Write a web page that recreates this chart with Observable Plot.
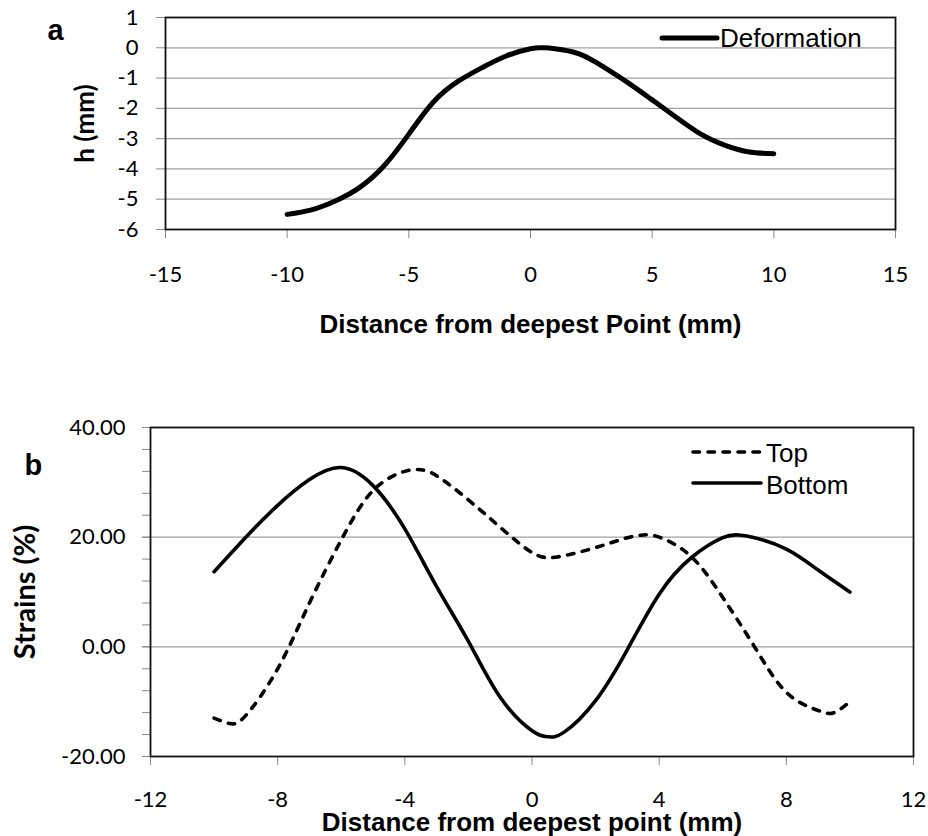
<!DOCTYPE html>
<html>
<head>
<meta charset="utf-8">
<script src="https://cdn.jsdelivr.net/npm/d3@7"></script>
<script src="https://cdn.jsdelivr.net/npm/@observablehq/plot@0.6"></script>
<style>
  body { margin: 0; background: #fff; }
  #wrap { position: relative; width: 928px; height: 836px; background: #fff; }
  .panel { position: absolute; left: 0; }
  .leg { position: absolute; font-family: "Liberation Sans", Arial, sans-serif; font-size: 26px; line-height: 30px; color: #000; white-space: nowrap; }
  .sw { position: absolute; overflow: visible; }
</style>
</head>
<body>
<div id="wrap">
  <div id="pa" class="panel" style="top:0"></div>
  <div id="pb" class="panel" style="top:400px"></div>
</div>
<script>
// ---------- Panel a: deformation ----------
const defX = [-10, -9, -8, -7, -6, -5, -4, -3, -2, -1, 0, 0.5, 1, 2, 3, 4, 5, 6, 7, 8, 9, 10];
const defH = [-5.5, -5.35, -5.05, -4.6, -3.88, -2.85, -1.8, -1.12, -0.66, -0.27, -0.03, 0, -0.03, -0.2, -0.63, -1.15, -1.72, -2.3, -2.85, -3.22, -3.44, -3.5];
const xTicksA = [-15, -10, -5, 0, 5, 10, 15];
const yTicksA = [-6, -5, -4, -3, -2, -1, 0, 1];
const seriesA = "Deformation";
const xTitleA = "Distance from deepest Point (mm)";
const yTitleA = "h (mm)";
const panelA = "a";

// ---------- Panel b: strains ----------
const topX = [-10, -9.5, -9, -8, -7, -6, -5, -4, -3.5, -3, -2, -1, 0, 0.8, 2, 3, 3.5, 4, 5, 6, 7, 8, 9, 9.5, 10];
const topStrain = [-13, -14, -12.5, -4, 8, 19.5, 28.5, 32, 32.3, 31.2, 26.8, 21.8, 17.2, 16.4, 18.1, 19.9, 20.4, 20, 16.5, 9, 0, -8.3, -11.6, -12, -10];
const bottomX = [-10, -9, -8, -7, -6, -5, -4, -3, -2, -1, 0, 0.5, 1, 2, 3, 4, 5, 6, 6.5, 7, 8, 9, 10];
const bottomStrain = [13.7, 20, 25.8, 30.5, 32.7, 29.4, 21.5, 11, 1, -9.2, -15.3, -16.4, -15.6, -9.8, -0.5, 9.6, 16.2, 19.9, 20.4, 19.9, 17.8, 14, 10];
const xTicksB = [-12, -8, -4, 0, 4, 8, 12];
const yMajorB = [-20, 0, 20, 40];
const yMinorB = d3.range(-20, 41, 4);
const seriesB = ["Top", "Bottom"];
const xTitleB = "Distance from deepest point (mm)";
const yTitleB = "Strains (%)";
const panelB = "b";

const tickFont = "Lato, 'Open Sans', sans-serif";
const titleFont = "'Liberation Sans', Arial, sans-serif";
const gridColor = "#a0a0a0";
const tickColor = "#8a8a8a";
const plain = d => String(d);
const fixed2 = d => d.toFixed(2);

const defData = defX.map((x, i) => ({x, h: defH[i]}));
const topData = topX.map((x, i) => ({x, v: topStrain[i]}));
const botData = bottomX.map((x, i) => ({x, v: bottomStrain[i]}));

const chartA = Plot.plot({
  width: 928, height: 400,
  marginLeft: 165, marginRight: 33, marginTop: 17, marginBottom: 171,
  style: {fontFamily: tickFont, fontSize: "22px", background: "transparent", color: "#000", overflow: "visible"},
  x: {domain: [-15, 15]},
  y: {domain: [-6, 1]},
  marks: [
    Plot.gridY(yTicksA, {stroke: gridColor, strokeOpacity: 1, strokeWidth: 1.2}),
    Plot.axisY(yTicksA, {tickSize: 9, tickPadding: 18, stroke: tickColor, fill: "#000", tickFormat: plain, label: null}),
    Plot.axisX(xTicksA, {tickSize: 9, tickPadding: 28, stroke: tickColor, fill: "#000", tickFormat: plain, label: null}),
    Plot.frame({stroke: "#111", strokeWidth: 1.8}),
    Plot.line(defData, {x: "x", y: "h", curve: "natural", stroke: "#000", strokeWidth: 5, strokeLinecap: "round", strokeLinejoin: "round"}),
    Plot.text([xTitleA], {frameAnchor: "bottom", dy: 95, textAnchor: "middle", lineAnchor: "middle", fontFamily: titleFont, fontWeight: "bold", fontSize: 26, fill: "#000"}),
    Plot.text([yTitleA], {frameAnchor: "left", dx: -80, rotate: -90, textAnchor: "middle", lineAnchor: "middle", fontFamily: tickFont, fontWeight: "bold", fontSize: 26, fill: "#000"}),
    Plot.text([panelA], {frameAnchor: "top-left", dx: -118, dy: 13.5, textAnchor: "start", lineAnchor: "middle", fontFamily: titleFont, fontWeight: "bold", fontSize: 29, fill: "#000"})
  ]
});
document.getElementById("pa").append(chartA);

const chartB = Plot.plot({
  width: 928, height: 436,
  marginLeft: 150, marginRight: 15, marginTop: 27, marginBottom: 80,
  style: {fontFamily: tickFont, fontSize: "22px", background: "transparent", color: "#000", overflow: "visible"},
  x: {domain: [-12, 12]},
  y: {domain: [-20, 40]},
  marks: [
    Plot.gridY(yMajorB, {stroke: gridColor, strokeOpacity: 1, strokeWidth: 1.2}),
    Plot.axisY(yMinorB, {tickSize: 8, stroke: tickColor, text: null, label: null}),
    Plot.axisY(yMajorB, {tickSize: 8, tickPadding: 17, stroke: tickColor, fill: "#000", tickFormat: fixed2, label: null}),
    Plot.axisX(xTicksB, {tickSize: 9, tickPadding: 26, stroke: tickColor, fill: "#000", tickFormat: plain, label: null}),
    Plot.frame({stroke: "#111", strokeWidth: 1.8}),
    Plot.line(topData, {x: "x", y: "v", curve: "natural", stroke: "#000", strokeWidth: 3.6, strokeDasharray: "6.5,8.5", strokeLinecap: "round"}),
    Plot.line(botData, {x: "x", y: "v", curve: "natural", stroke: "#000", strokeWidth: 3.6, strokeLinecap: "round", strokeLinejoin: "round"}),
    Plot.text([xTitleB], {frameAnchor: "bottom", dy: 66, textAnchor: "middle", lineAnchor: "middle", fontFamily: titleFont, fontWeight: "bold", fontSize: 26, fill: "#000"}),
    Plot.text([yTitleB], {frameAnchor: "left", dx: -125, rotate: -90, textAnchor: "middle", lineAnchor: "middle", fontFamily: tickFont, fontWeight: "bold", fontSize: 29, fill: "#000"}),
    Plot.text([panelB], {frameAnchor: "top-left", dx: -126, dy: 38, textAnchor: "start", lineAnchor: "middle", fontFamily: titleFont, fontWeight: "bold", fontSize: 29, fill: "#000"})
  ]
});
document.getElementById("pb").append(chartB);

// ---------- Legends (HTML overlay) ----------
const wrap = document.getElementById("wrap");
function swatch(left, top, dashed, width) {
  const ns = "http://www.w3.org/2000/svg";
  const svg = document.createElementNS(ns, "svg");
  svg.setAttribute("class", "sw");
  svg.setAttribute("width", 80);
  svg.setAttribute("height", 16);
  svg.style.left = (left - 5) + "px";
  svg.style.top = (top - 8) + "px";
  const ln = document.createElementNS(ns, "line");
  ln.setAttribute("x1", 5);
  ln.setAttribute("x2", 5 + width);
  ln.setAttribute("y1", 8);
  ln.setAttribute("y2", 8);
  ln.setAttribute("stroke", "#000");
  ln.setAttribute("stroke-width", dashed === "thick" ? 5 : 3.6);
  ln.setAttribute("stroke-linecap", "round");
  if (dashed === true) ln.setAttribute("stroke-dasharray", "6.5,8.5");
  svg.append(ln);
  wrap.append(svg);
}
function label(text, left, cy) {
  const d = document.createElement("div");
  d.className = "leg";
  d.textContent = text;
  d.style.left = left + "px";
  d.style.top = (cy - 15) + "px";
  wrap.append(d);
}
swatch(662, 38, "thick", 55);
label(seriesA, 720, 38);
swatch(693, 452, true, 68);
label(seriesB[0], 766, 453);
swatch(693, 483, false, 68);
label(seriesB[1], 766, 485);
</script>
</body>
</html>
